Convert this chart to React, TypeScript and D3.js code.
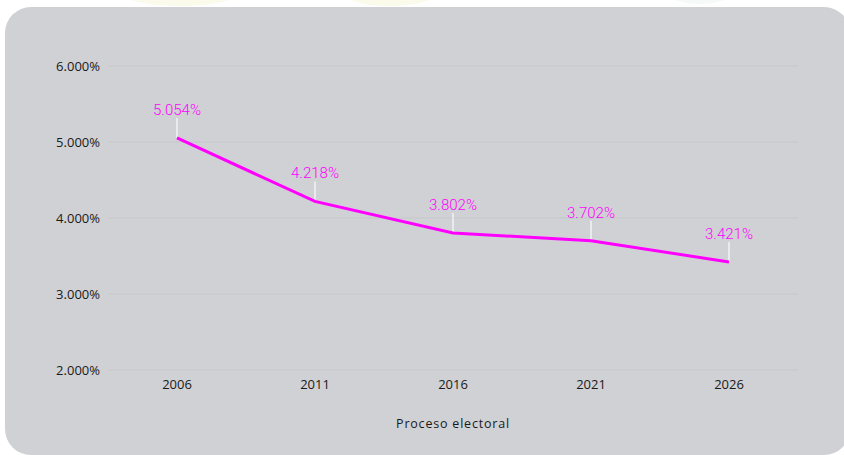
import React from "react";
import * as d3 from "d3";

const years = ["2006", "2011", "2016", "2021", "2026"];
const values = [5.054, 4.218, 3.802, 3.702, 3.421];
const yTicks = [2, 3, 4, 5, 6];

export default function App() {
  const W = 844, H = 455;
  const x = d3.scaleBand<string>().domain(years).range([108, 798]);
  const y = d3.scaleLinear().domain([2, 6]).range([370, 66]);
  const line = d3
    .line<number>()
    .x((_, i) => (x(years[i]) as number) + x.bandwidth() / 2)
    .y((d) => y(d));
  const fmt = (v: number) => v.toFixed(3) + "%";
  return (
    <svg
      width={W}
      height={H}
      style={{ position: "absolute", left: 0, top: 0, background: "#ffffff" }}
    >
      <ellipse cx={180} cy={-6} rx={55} ry={12} fill="#fafbeb" />
      <ellipse cx={390} cy={-6} rx={45} ry={12} fill="#fafbeb" />
      <ellipse cx={700} cy={-6} rx={30} ry={10} fill="#f5faf8" />
      <rect x={5} y={7} width={845} height={448} rx={26} ry={26} fill="#d0d1d5" />
      {yTicks.map((t) => (
        <g key={t}>
          <line x1={108} x2={798} y1={y(t)} y2={y(t)} stroke="#c6c7ca" strokeWidth={1} />
          <text
            x={100}
            y={y(t)}
            dy="0.35em"
            textAnchor="end"
            fontFamily="'Open Sans', sans-serif"
            fontSize={13}
            fill="#1a1a1a"
          >
            {t.toFixed(3) + "%"}
          </text>
        </g>
      ))}
      {years.map((yr) => (
        <text
          key={yr}
          x={(x(yr) as number) + x.bandwidth() / 2}
          y={389}
          textAnchor="middle"
          fontFamily="'Open Sans', sans-serif"
          fontSize={13}
          fill="#1a1a1a"
        >
          {yr}
        </text>
      ))}
      <text
        x={453}
        y={428}
        textAnchor="middle"
        fontFamily="'Open Sans', sans-serif"
        fontSize={12.5}
        letterSpacing={0.8}
        fill="#1a1a1a"
      >
        Proceso electoral
      </text>
      {values.map((v, i) => {
        const cx = (x(years[i]) as number) + x.bandwidth() / 2;
        const cy = y(v);
        return (
          <g key={i}>
            <line x1={cx} x2={cx} y1={cy} y2={cy - 20} stroke="#f2f2f2" strokeWidth={1.5} />
            <text
              x={cx}
              y={cy - 23}
              textAnchor="middle"
              fontFamily="Roboto, sans-serif"
              fontWeight={300}
              fontSize={15}
              fill="#ff00ff"
            >
              {fmt(v)}
            </text>
          </g>
        );
      })}
      <path d={line(values) || ""} fill="none" stroke="#ff00ff" strokeWidth={3} />
    </svg>
  );
}
